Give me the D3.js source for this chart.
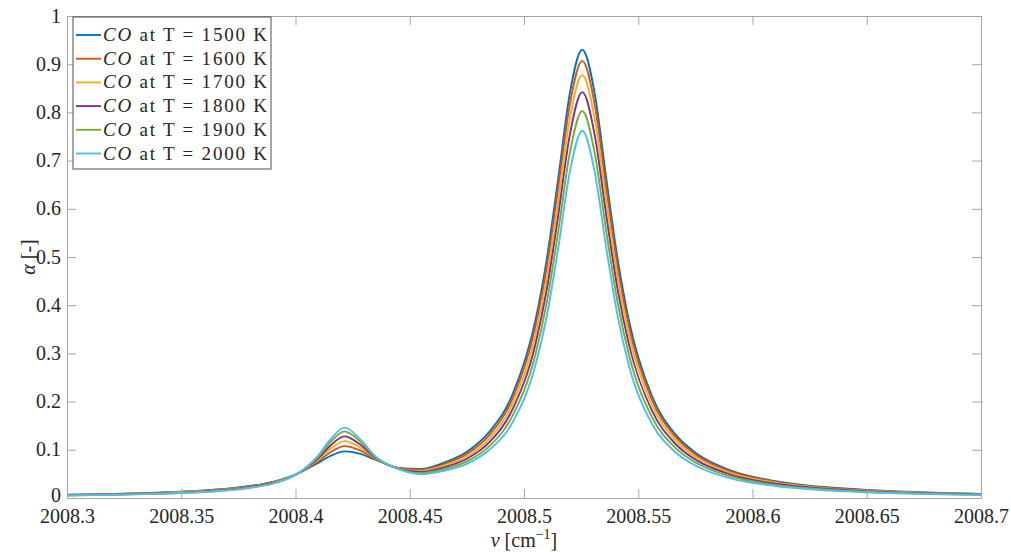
<!DOCTYPE html>
<html>
<head>
<meta charset="utf-8">
<script src="https://cdn.jsdelivr.net/npm/d3@7"></script>
<style>
  body { margin: 0; background: #fff; }
  svg { display: block; }
</style>
</head>
<body>
<div id="chart"></div>
<script>
// wavenumber grid [cm^-1]
const nu = [2008.30, 2008.32, 2008.34, 2008.36, 2008.37, 2008.38, 2008.39, 2008.40,
  2008.41, 2008.415, 2008.4215, 2008.428, 2008.435, 2008.445, 2008.455, 2008.465,
  2008.475, 2008.485, 2008.495, 2008.505, 2008.51, 2008.515, 2008.52, 2008.5255,
  2008.531, 2008.536, 2008.541, 2008.546, 2008.556, 2008.566, 2008.576, 2008.59,
  2008.61, 2008.63, 2008.65, 2008.675, 2008.70];

const temps = [1500, 1600, 1700, 1800, 1900, 2000];

const a1500 = [0.0067, 0.0085, 0.0112, 0.0157, 0.0194, 0.0248, 0.0336, 0.0486,
  0.0730, 0.0866, 0.0968, 0.0922, 0.0794, 0.0625, 0.0605, 0.0735,
  0.0960, 0.1383, 0.2148, 0.3685, 0.4963, 0.6635, 0.8379, 0.930,
  0.8374, 0.6625, 0.4949, 0.3665, 0.2116, 0.1334, 0.0906, 0.0579,
  0.0348, 0.0232, 0.0165, 0.0116, 0.0086];
const a1600 = [0.0064, 0.0081, 0.0107, 0.0150, 0.0187, 0.0240, 0.0328, 0.0485,
  0.0764, 0.0939, 0.1076, 0.0992, 0.0809, 0.0620, 0.0585, 0.0704,
  0.0915, 0.1315, 0.2067, 0.3554, 0.4797, 0.6433, 0.8152, 0.907,
  0.8147, 0.6423, 0.4784, 0.3535, 0.2036, 0.1282, 0.0870, 0.0556,
  0.0334, 0.0223, 0.0158, 0.0111, 0.0083];
const a1700 = [0.0061, 0.0077, 0.0102, 0.0144, 0.0179, 0.0232, 0.0320, 0.0483,
  0.0796, 0.1009, 0.1180, 0.1058, 0.0823, 0.0616, 0.0563, 0.0670,
  0.0865, 0.1239, 0.1963, 0.3386, 0.4584, 0.6174, 0.7859, 0.877,
  0.7854, 0.6164, 0.4571, 0.3367, 0.1932, 0.1214, 0.0824, 0.0526,
  0.0316, 0.0211, 0.0150, 0.0105, 0.0078];
const a1800 = [0.0057, 0.0072, 0.0096, 0.0137, 0.0172, 0.0224, 0.0313, 0.0482,
  0.0827, 0.1075, 0.1279, 0.1121, 0.0836, 0.0611, 0.0541, 0.0636,
  0.0815, 0.1164, 0.1842, 0.3190, 0.4336, 0.5871, 0.7518, 0.842,
  0.7513, 0.5862, 0.4323, 0.3172, 0.1811, 0.1136, 0.0770, 0.0491,
  0.0295, 0.0196, 0.0140, 0.0099, 0.0073];
const a1900 = [0.0054, 0.0068, 0.0091, 0.0131, 0.0164, 0.0216, 0.0305, 0.0480,
  0.0859, 0.1145, 0.1382, 0.1187, 0.0850, 0.0605, 0.0517, 0.0599,
  0.0760, 0.1081, 0.1709, 0.2976, 0.4064, 0.5539, 0.7144, 0.803,
  0.7140, 0.5531, 0.4051, 0.2957, 0.1679, 0.1050, 0.0711, 0.0453,
  0.0272, 0.0181, 0.0129, 0.0091, 0.0067];
const a2000 = [0.0051, 0.0064, 0.0086, 0.0124, 0.0157, 0.0208, 0.0297, 0.0479,
  0.0884, 0.1198, 0.1461, 0.1238, 0.0861, 0.0600, 0.0495, 0.0565,
  0.0710, 0.1005, 0.1571, 0.2752, 0.3780, 0.5193, 0.6754, 0.762,
  0.6750, 0.5185, 0.3767, 0.2734, 0.1541, 0.0960, 0.0649, 0.0413,
  0.0248, 0.0165, 0.0118, 0.0083, 0.0061];

const series = [a1500, a1600, a1700, a1800, a1900, a2000];
const colors = ['#0072BD', '#D95319', '#EDB120', '#7E2F8E', '#77AC30', '#4DBEEE'];

const xTicks = [2008.3, 2008.35, 2008.4, 2008.45, 2008.5, 2008.55, 2008.6, 2008.65, 2008.7];
const yTicks = [0, 0.1, 0.2, 0.3, 0.4, 0.5, 0.6, 0.7, 0.8, 0.9, 1];

const W = 1011, H = 552;
const margin = { top: 16, right: 30, bottom: 54, left: 67 };
const w = W - margin.left - margin.right;
const h = H - margin.top - margin.bottom;
const FONT = "'Liberation Serif', 'DejaVu Serif', serif";
const FS = 20;
const AXIS = '#a6a6a6';
const TXT = '#262626';

const svg = d3.select('#chart').append('svg')
  .attr('width', W).attr('height', H);

const g = svg.append('g').attr('transform', `translate(${margin.left},${margin.top})`);

const x = d3.scaleLinear().domain([2008.3, 2008.7]).range([0, w]);
const y = d3.scaleLinear().domain([0, 1]).range([h, 0]);

// clip
svg.append('defs').append('clipPath').attr('id', 'plot')
  .append('rect').attr('width', w).attr('height', h);

// curves
const line = d3.line()
  .x((d, i) => x(nu[i]))
  .y(d => y(d))
  .curve(d3.curveMonotoneX);

g.append('g').attr('clip-path', 'url(#plot)')
  .selectAll('path')
  .data(series).enter().append('path')
  .attr('d', line)
  .attr('fill', 'none')
  .attr('stroke', (d, i) => colors[i])
  .attr('stroke-width', 1.9)
  .attr('stroke-linejoin', 'round');

// axes (ticks point inward, box on)
const styleAxis = sel => {
  sel.attr('font-family', FONT).attr('font-size', FS);
  sel.selectAll('line, path').attr('stroke', AXIS).attr('stroke-width', 1);
  sel.selectAll('text').attr('fill', TXT);
};

const xAxis = g.append('g').attr('transform', `translate(0,${h})`)
  .call(d3.axisBottom(x).tickValues(xTicks).tickSize(-9).tickSizeOuter(0).tickPadding(11).tickFormat(d => String(d)));
styleAxis(xAxis);

const xTop = g.append('g')
  .call(d3.axisTop(x).tickValues(xTicks).tickSize(-9).tickSizeOuter(0).tickFormat(''));
styleAxis(xTop);

const yAxis = g.append('g')
  .call(d3.axisLeft(y).tickValues(yTicks).tickSize(-9).tickSizeOuter(0).tickPadding(6).tickFormat(d => String(d)));
styleAxis(yAxis);
yAxis.selectAll('text').attr('dy', d => d === 0 ? '0.18em' : '0.3em');

const yRight = g.append('g').attr('transform', `translate(${w},0)`)
  .call(d3.axisRight(y).tickValues(yTicks).tickSize(-9).tickSizeOuter(0).tickFormat(''));
styleAxis(yRight);

// axis labels
const xl = svg.append('text')
  .attr('x', margin.left + w / 2).attr('y', 547)
  .attr('text-anchor', 'middle')
  .attr('font-family', FONT).attr('font-size', FS).attr('fill', TXT);
xl.append('tspan').attr('font-style', 'italic').text('ν');
xl.append('tspan').text(' [cm');
xl.append('tspan').attr('font-size', 14).attr('dy', -8).text('−1');
xl.append('tspan').attr('dy', 8).text(']');

const yl = svg.append('text')
  .attr('transform', `translate(35,${margin.top + h / 2}) rotate(-90)`)
  .attr('text-anchor', 'middle')
  .attr('font-family', FONT).attr('font-size', FS).attr('fill', TXT);
yl.append('tspan').attr('font-style', 'italic').text('α');
yl.append('tspan').text(' [-]');

// legend
const leg = svg.append('g').attr('transform', 'translate(73,17)');
leg.append('rect')
  .attr('width', 198).attr('height', 152)
  .attr('fill', '#fff').attr('stroke', '#4d4d4d').attr('stroke-width', 1);

const rows = leg.selectAll('g.row')
  .data(temps).enter().append('g')
  .attr('class', 'row')
  .attr('transform', (d, i) => `translate(0,${18 + i * 23.7})`);

rows.append('line')
  .attr('x1', 3).attr('x2', 28)
  .attr('stroke', (d, i) => colors[i]).attr('stroke-width', 1.9);

const lt = rows.append('text')
  .attr('x', 30).attr('y', 6)
  .attr('font-family', FONT).attr('font-size', 19).attr('fill', TXT)
  .attr('textLength', 164).attr('lengthAdjust', 'spacing');
lt.append('tspan').attr('font-style', 'italic').text('CO');
lt.append('tspan').text(d => ` at T = ${d} K`);
</script>
</body>
</html>
